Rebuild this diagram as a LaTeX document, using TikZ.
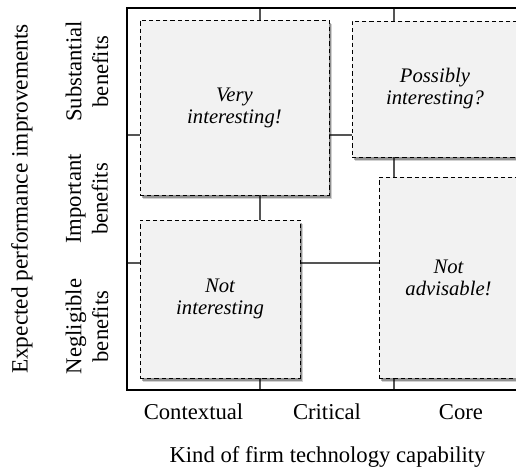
\documentclass[tikz,border=0pt]{standalone}
\usepackage{fontspec}
\setmainfont{Liberation Serif}
\usetikzlibrary{shadows}
\definecolor{boxfill}{HTML}{F2F2F2}
\definecolor{gridgray}{HTML}{555555}

\tikzset{
  quad/.style={draw, dashed, dash pattern=on 3.2pt off 2.2pt, line width=0.7pt,
    fill=boxfill, inner sep=0pt, outer sep=0pt, align=center,
    font=\fontsize{15.5}{16.5}\selectfont\itshape,
    drop shadow={shadow xshift=2.6pt, shadow yshift=-3.2pt, opacity=0.18, fill=black},
    drop shadow={shadow xshift=1.6pt, shadow yshift=-2pt, opacity=0.3, fill=black}},
  axislbl/.style={font=\fontsize{17}{20}\selectfont, align=center, inner sep=0pt},
  frame/.style={line width=1pt},
  gridline/.style={gridgray, line width=0.8pt}
}

\begin{document}
\begin{tikzpicture}[x=0.75pt, y=-0.75pt]
    \useasboundingbox (0,0) rectangle (516,471);
    \clip (0,0) rectangle (516,471);
    % grid lines (hidden behind the boxes)
    \coordinate (G1t) at (260,8);   \coordinate (G1b) at (260,390);
    \coordinate (G2t) at (394,8);   \coordinate (G2b) at (394,390);
    \coordinate (H1l) at (127,135); \coordinate (H1r) at (528,135);
    \coordinate (H2l) at (127,263); \coordinate (H2r) at (528,263);
    \draw[gridline] (G1t) -- (G1b);
    \draw[gridline] (G2t) -- (G2b);
    \draw[gridline] (H1l) -- (H1r);
    \draw[gridline] (H2l) -- (H2r);
    % frame
    \coordinate (TR) at (528,8);
    \coordinate (TL) at (127,8);
    \coordinate (BL) at (127,390);
    \coordinate (BR) at (528,390);
    \draw[frame] (TR) -- (TL) -- (BL) -- (BR);
    % the four boxes
    \node[quad, minimum width=141.75pt, minimum height=131.25pt] (VI) at (234.5,107.5) {Very\\interesting!};
    \node[quad, minimum width=124.5pt, minimum height=102pt] (PI) at (435,89) {Possibly\\interesting?};
    \node[quad, minimum width=120pt, minimum height=118.5pt] (NI) at (220,299) {Not\\interesting};
    \node[quad, minimum width=104.25pt, minimum height=150.75pt] (NA) at (448.5,277.5) {Not\\advisable!};
    % horizontal axis
    \node[axislbl] (Cx) at (193.5,412) {Contextual};
    \node[axislbl] (Cr) at (327,412) {Critical};
    \node[axislbl] (Co) at (461,412) {Core};
    \node[axislbl] (Kx) at (327.5,457) {Kind of firm technology capability};
    % vertical axis
    \node[axislbl, rotate=90] (Sb) at (87,71.5) {Substantial\\benefits};
    \node[axislbl, rotate=90] (Ib) at (87,199) {Important\\benefits};
    \node[axislbl, rotate=90] (Nb) at (87,326.5) {Negligible\\benefits};
    \node[axislbl, rotate=90, font=\fontsize{17.5}{20}\selectfont] (Ex) at (22,199) {Expected performance improvements};
\end{tikzpicture}
\end{document}
